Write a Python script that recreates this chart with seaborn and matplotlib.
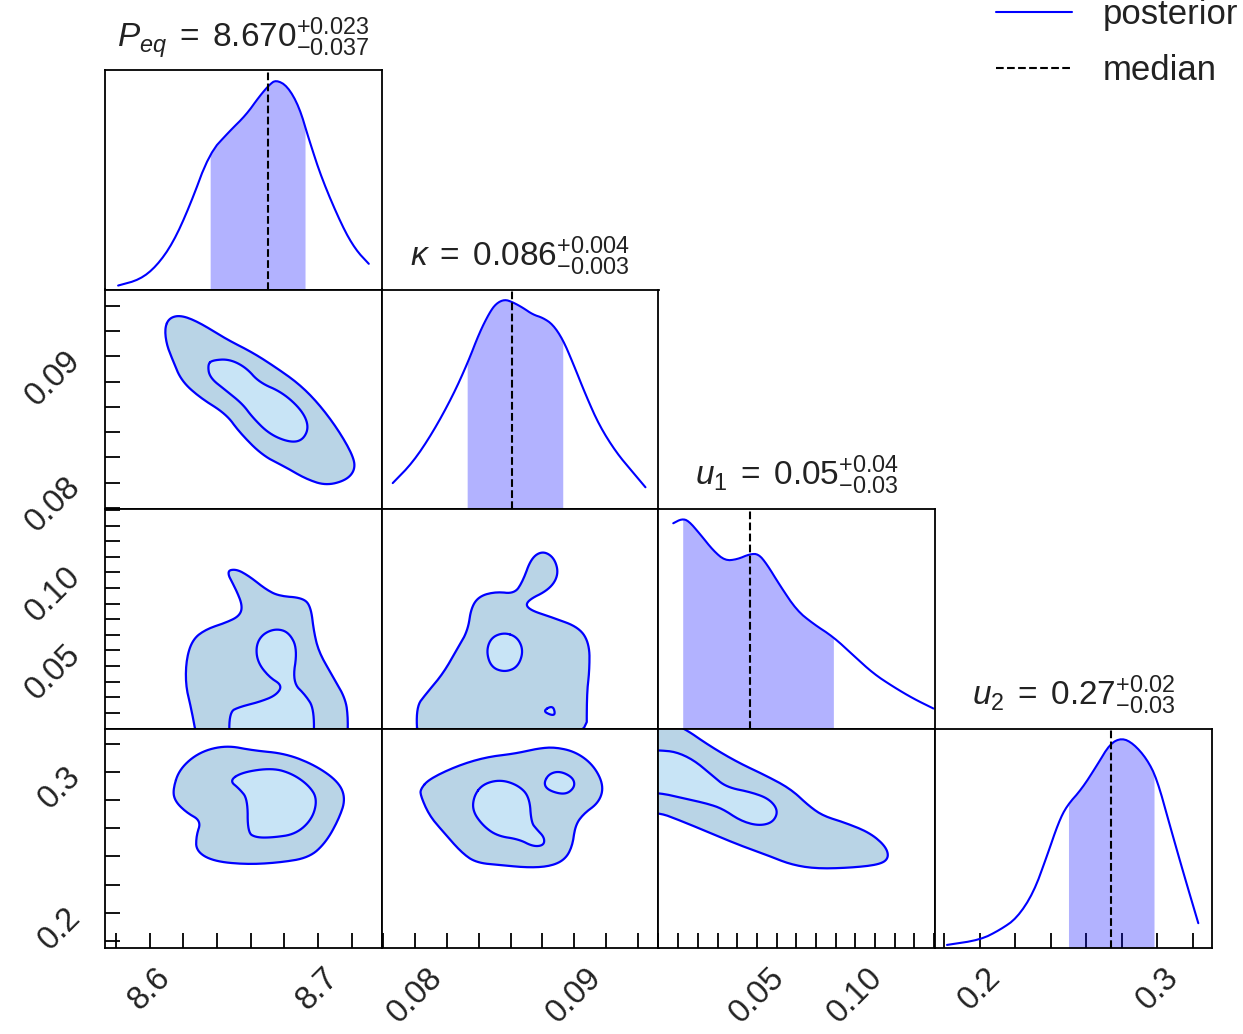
import numpy as np
import matplotlib
matplotlib.use("Agg")
import matplotlib.pyplot as plt
import seaborn as sns
from matplotlib.ticker import MultipleLocator
from matplotlib.lines import Line2D

# ---------------- data ----------------
titles = [r"$P_{eq}\;=\;8.670^{+0.023}_{-0.037}$",
          r"$\kappa\;=\;0.086^{+0.004}_{-0.003}$",
          r"$u_1\;=\;0.05^{+0.04}_{-0.03}$",
          r"$u_2\;=\;0.27^{+0.02}_{-0.03}$"]
limits = [(8.5734, 8.7379), (0.0779, 0.0953), (0.0, 0.1407), (0.1751, 0.3307)]
major_ticks = [[8.6, 8.7], [0.08, 0.09], [0.05, 0.10], [0.2, 0.3]]
major_labels = [["8.6", "8.7"], ["0.08", "0.09"], ["0.05", "0.10"], ["0.2", "0.3"]]
minor_step = [0.02, 0.002, 0.01, 0.02]

# quantiles (16%, 50%, 84%)
quant_peq = [8.6359, 8.6704, 8.6923]
quant_kap = [0.08327, 0.08610, 0.08928]
quant_u1 = [0.0123, 0.0465, 0.0889]
quant_u2 = [0.2500, 0.2738, 0.2981]

# 1D marginal posteriors (relative density)
peq_x = [8.5812, 8.5941, 8.6040, 8.6138, 8.6237, 8.6355, 8.6473, 8.6572, 8.6651, 8.6710,
         8.6750, 8.6818, 8.6888, 8.6947, 8.7025, 8.7144, 8.7223, 8.7302]
peq_d = [0.018, 0.045, 0.106, 0.212, 0.379, 0.621, 0.720, 0.795, 0.879, 0.932,
         0.955, 0.927, 0.833, 0.682, 0.500, 0.288, 0.182, 0.117]
kap_x = [0.07859, 0.07985, 0.08111, 0.08236, 0.08331, 0.08404, 0.08467, 0.08509, 0.08562,
         0.08614, 0.08677, 0.08740, 0.08803, 0.08865, 0.08928, 0.08991, 0.09075, 0.09159,
         0.09264, 0.09369, 0.09448]
kap_d = [0.118, 0.212, 0.349, 0.515, 0.667, 0.803, 0.894, 0.936, 0.955,
         0.942, 0.917, 0.886, 0.871, 0.841, 0.773, 0.667, 0.515, 0.379,
         0.258, 0.167, 0.099]
u1_x = [0.0075, 0.0118, 0.0152, 0.0211, 0.0279, 0.0338, 0.0398, 0.0465, 0.0508, 0.0550,
        0.0618, 0.0703, 0.0787, 0.0889, 0.0991, 0.1093, 0.1194, 0.1296, 0.1398]
u1_d = [0.935, 0.955, 0.947, 0.886, 0.810, 0.765, 0.770, 0.795, 0.795, 0.750,
        0.651, 0.538, 0.477, 0.417, 0.333, 0.250, 0.190, 0.136, 0.091]
u2_x = [0.1817, 0.2004, 0.2116, 0.2210, 0.2303, 0.2379, 0.2444, 0.2491, 0.2575, 0.2660,
        0.2734, 0.2800, 0.2865, 0.2940, 0.2997, 0.3071, 0.3146, 0.3230]
u2_d = [0.014, 0.037, 0.083, 0.136, 0.251, 0.419, 0.572, 0.648, 0.725, 0.832,
        0.931, 0.957, 0.931, 0.862, 0.771, 0.556, 0.343, 0.113]

# 2D credible-region outlines (outer = 2 sigma, inner = 1 sigma), data units
peq_kap_outer = [(8.6089, 0.09228), (8.6118, 0.09307), (8.6188, 0.09326), (8.6296, 0.09268),
                 (8.6454, 0.09137), (8.6611, 0.09031), (8.6750, 0.08912), (8.6888, 0.08781),
                 (8.7006, 0.08622), (8.7124, 0.08411), (8.7213, 0.08200), (8.7219, 0.08095),
                 (8.7164, 0.08016), (8.7046, 0.07976), (8.6927, 0.08029), (8.6809, 0.08121),
                 (8.6670, 0.08214), (8.6533, 0.08398), (8.6454, 0.08543), (8.6296, 0.08675),
                 (8.6188, 0.08807), (8.6138, 0.08965), (8.6099, 0.09097)]
peq_kap_inner = [(8.6345, 0.08939), (8.6375, 0.08970), (8.6473, 0.08978), (8.6572, 0.08912),
                 (8.6651, 0.08793), (8.6789, 0.08714), (8.6907, 0.08569), (8.6947, 0.08437),
                 (8.6907, 0.08332), (8.6828, 0.08319), (8.6710, 0.08385), (8.6611, 0.08516),
                 (8.6552, 0.08622), (8.6454, 0.08728), (8.6355, 0.08833)]
peq_u1_outer = [(8.6286, -0.01), (8.6247, 0.0127), (8.6213, 0.0276), (8.6217, 0.0446),
                (8.6256, 0.0573), (8.6336, 0.0637), (8.6454, 0.0679), (8.6533, 0.0721),
                (8.6552, 0.0785), (8.6513, 0.0891), (8.6454, 0.1008), (8.6513, 0.1023),
                (8.6592, 0.0976), (8.6691, 0.0891), (8.6769, 0.0849), (8.6907, 0.0838),
                (8.6957, 0.0785), (8.6976, 0.0616), (8.7006, 0.0488), (8.7085, 0.0339),
                (8.7164, 0.0191), (8.7179, 0.0064), (8.7174, -0.01)]
peq_u1_inner = [(8.6473, -0.01), (8.6473, 0.0106), (8.6533, 0.0138), (8.6651, 0.0170),
                (8.6750, 0.0212), (8.6789, 0.0276), (8.6710, 0.0329), (8.6641, 0.0425),
                (8.6631, 0.0530), (8.6670, 0.0605), (8.6750, 0.0641), (8.6828, 0.0616),
                (8.6878, 0.0509), (8.6848, 0.0297), (8.6927, 0.0212), (8.6976, 0.0127),
                (8.6976, -0.01)]
peq_u2_outer = [(8.6138, 0.2879), (8.6178, 0.3022), (8.6296, 0.3141), (8.6454, 0.3188),
                (8.6611, 0.3152), (8.6809, 0.3129), (8.6986, 0.3045), (8.7124, 0.2927),
                (8.7164, 0.2807), (8.7124, 0.2665), (8.7046, 0.2498), (8.6947, 0.2391),
                (8.6769, 0.2356), (8.6572, 0.2343), (8.6375, 0.2367), (8.6276, 0.2438),
                (8.6276, 0.2545), (8.6306, 0.2652), (8.6217, 0.2712), (8.6148, 0.2795)]
peq_u2_inner = [(8.6473, 0.2938), (8.6552, 0.2998), (8.6730, 0.3027), (8.6848, 0.2986),
                (8.6947, 0.2902), (8.6996, 0.2807), (8.6966, 0.2665), (8.6868, 0.2558),
                (8.6730, 0.2534), (8.6631, 0.2534), (8.6582, 0.2570), (8.6582, 0.2807),
                (8.6533, 0.2879)]
kap_u1_outer = [(0.08016, -0.01), (0.08006, 0.0138), (0.08069, 0.0223), (0.08174, 0.0350),
                (0.08258, 0.0498), (0.08331, 0.0626), (0.08352, 0.0775), (0.08404, 0.0849),
                (0.08509, 0.0877), (0.08625, 0.0864), (0.08677, 0.0944), (0.08730, 0.1093),
                (0.08803, 0.1139), (0.08876, 0.1093), (0.08903, 0.0987), (0.08845, 0.0891),
                (0.08698, 0.0817), (0.08708, 0.0764), (0.08865, 0.0711), (0.09033, 0.0647),
                (0.09096, 0.0541), (0.09096, 0.0371), (0.09079, 0.0223), (0.09079, -0.01)]
kap_u1_inner = [(0.08562, 0.0616), (0.08645, 0.0584), (0.08681, 0.0495), (0.08645, 0.0393),
                (0.08562, 0.0361), (0.08478, 0.0393), (0.08447, 0.0495), (0.08478, 0.0584)]
kap_u1_speck = [(0.08803, 0.0113), (0.08865, 0.0148), (0.08882, 0.0091), (0.08855, 0.0085)]
kap_u2_outer = [(0.08034, 0.2879), (0.08090, 0.2950), (0.08270, 0.3045), (0.08449, 0.3105),
                (0.08629, 0.3129), (0.08764, 0.3164), (0.08876, 0.3176), (0.09011, 0.3141),
                (0.09123, 0.3045), (0.09186, 0.2902), (0.09157, 0.2784), (0.09056, 0.2700),
                (0.09006, 0.2617), (0.08989, 0.2474), (0.08943, 0.2379), (0.08853, 0.2331),
                (0.08719, 0.2320), (0.08539, 0.2338), (0.08382, 0.2356), (0.08292, 0.2427),
                (0.08180, 0.2570), (0.08090, 0.2688), (0.08034, 0.2831)]
kap_u2_inner = [(0.08370, 0.2831), (0.08427, 0.2914), (0.08539, 0.2945), (0.08652, 0.2902),
                (0.08719, 0.2820), (0.08730, 0.2641), (0.08764, 0.2593), (0.08813, 0.2534),
                (0.08809, 0.2479), (0.08742, 0.2470), (0.08652, 0.2522), (0.08517, 0.2545),
                (0.08427, 0.2617), (0.08360, 0.2724)]
kap_u2_island = [(0.08809, 0.2922), (0.08842, 0.2986), (0.08910, 0.3005), (0.08989, 0.2962),
                 (0.09006, 0.2902), (0.08966, 0.2850), (0.08910, 0.2843), (0.08831, 0.2874)]
u1_u2_outer = [(-0.01, 0.345), (0.0119, 0.332), (0.0255, 0.3188), (0.0400, 0.3069),
               (0.0545, 0.2974), (0.0672, 0.2879), (0.0763, 0.2760), (0.0836, 0.2688),
               (0.0945, 0.2641), (0.1072, 0.2570), (0.1154, 0.2474), (0.1172, 0.2391),
               (0.1127, 0.2343), (0.0981, 0.2320), (0.0800, 0.2313), (0.0672, 0.2343),
               (0.0564, 0.2403), (0.0400, 0.2486), (0.0218, 0.2593), (0.0091, 0.2665),
               (0.0010, 0.2707), (-0.01, 0.2712)]
u1_u2_inner = [(-0.01, 0.3155), (0.0010, 0.3152), (0.0091, 0.3141), (0.0182, 0.3081),
               (0.0273, 0.2974), (0.0345, 0.2891), (0.0473, 0.2855), (0.0564, 0.2807),
               (0.0609, 0.2724), (0.0582, 0.2641), (0.0509, 0.2617), (0.0418, 0.2652),
               (0.0328, 0.2736), (0.0255, 0.2772), (0.0145, 0.2807), (0.0010, 0.2850),
               (-0.01, 0.2852)]

marginals = [(peq_x, peq_d, quant_peq), (kap_x, kap_d, quant_kap),
             (u1_x, u1_d, quant_u1), (u2_x, u2_d, quant_u2)]
regions = {
    (1, 0): ([peq_kap_outer], [peq_kap_inner]),
    (2, 0): ([peq_u1_outer], [peq_u1_inner]),
    (3, 0): ([peq_u2_outer], [peq_u2_inner]),
    (2, 1): ([kap_u1_outer], [kap_u1_inner, kap_u1_speck]),
    (3, 1): ([kap_u2_outer], [kap_u2_inner, kap_u2_island]),
    (3, 2): ([u1_u2_outer], [u1_u2_inner]),
}

# ---------------- style ----------------
sns.set_style("white")
TXT = "#222222"
plt.rcParams.update({
    "font.family": ["Liberation Sans", "DejaVu Sans"],
    "mathtext.fontset": "custom",
    "mathtext.rm": "Liberation Sans",
    "mathtext.it": "Liberation Sans:italic",
    "mathtext.sf": "Liberation Sans",
    "mathtext.bf": "Liberation Sans:bold",
    "text.color": TXT,
    "axes.edgecolor": "black",
    "axes.linewidth": 1.3,
    "xtick.direction": "in",
    "ytick.direction": "in",
    "xtick.color": "black",
    "ytick.color": "black",
    "xtick.labelcolor": TXT,
    "ytick.labelcolor": TXT,
})

LINE = "#0000ff"
FILL_OUT = "#b9d4e6"
FILL_IN = "#c8e4f6"


def chaikin(pts, n=3, closed=True):
    p = np.asarray(pts, float)
    for _ in range(n):
        if closed:
            q = np.roll(p, -1, axis=0)
            a = 0.75 * p + 0.25 * q
            b = 0.25 * p + 0.75 * q
            p = np.empty((2 * len(a), 2))
            p[0::2] = a
            p[1::2] = b
        else:
            a = 0.75 * p[:-1] + 0.25 * p[1:]
            b = 0.25 * p[:-1] + 0.75 * p[1:]
            mid = np.empty((2 * len(a), 2))
            mid[0::2] = a
            mid[1::2] = b
            p = np.vstack([p[:1], mid, p[-1:]])
    return p


fig = plt.figure(figsize=(12.43, 10.34), dpi=100)
axes = fig.subplots(4, 4, gridspec_kw=dict(wspace=0, hspace=0))
fig.subplots_adjust(left=105 / 1243, right=1212 / 1243, top=1 - 70 / 1034, bottom=1 - 948 / 1034)

for i in range(4):
    for j in range(4):
        ax = axes[i, j]
        if j > i:
            ax.set_axis_off()
            continue
        ax.set_xlim(*limits[j])
        if i == j:
            xs, ds, q = marginals[i]
            curve = chaikin(np.column_stack([xs, ds]), n=2, closed=False)
            sns.lineplot(x=curve[:, 0], y=curve[:, 1], ax=ax, color=LINE, lw=1.5,
                         sort=False, estimator=None)
            lo, med, hi = q
            inside = curve[(curve[:, 0] > lo) & (curve[:, 0] < hi), 0]
            fx = np.concatenate([[lo], inside, [hi]])
            fy = np.interp(fx, curve[:, 0], curve[:, 1])
            ax.fill_between(fx, 0, fy, color="#0000ff", alpha=0.3, lw=0)
            ax.axvline(med, color="black", ls="--", lw=1.5)
            ax.set_ylim(0, 1.0)
            ax.set_title(titles[i], fontsize=24, pad=17, color=TXT)
        else:
            ax.set_ylim(*limits[i])
            outers, inners = regions[(i, j)]
            outlines = []
            for poly in outers:
                sm = chaikin(poly, n=3)
                ax.fill(sm[:, 0], sm[:, 1], color=FILL_OUT, lw=0)
                outlines.append(sm)
            for poly in inners:
                sm = chaikin(poly, n=3)
                ax.fill(sm[:, 0], sm[:, 1], color=FILL_IN, lw=0)
                outlines.append(sm)
            for sm in outlines:
                closed = np.vstack([sm, sm[:1]])
                sns.lineplot(x=closed[:, 0], y=closed[:, 1], ax=ax, color=LINE, lw=1.6,
                             sort=False, estimator=None)
        ax.set_xlabel("")
        ax.set_ylabel("")

        # x axis
        ax.set_xticks(major_ticks[j], labels=major_labels[j], rotation=45, ha="center")
        ax.xaxis.set_minor_locator(MultipleLocator(minor_step[j]))
        if i == 3:
            ax.tick_params(axis="x", which="both", bottom=True, top=False, length=11,
                           width=1.3, pad=10, labelsize=23.5, labelbottom=True)
        else:
            ax.tick_params(axis="x", which="both", bottom=False, top=False, labelbottom=False)

        # y axis
        if j == 0 and i > 0:
            ax.set_yticks(major_ticks[i], labels=major_labels[i], rotation=45, ha="right",
                          va="center", rotation_mode="anchor")
            ax.yaxis.set_minor_locator(MultipleLocator(minor_step[i]))
            ax.tick_params(axis="y", which="both", left=True, right=False, length=11,
                           width=1.3, pad=21, labelsize=23.5, labelleft=True)
        else:
            ax.set_yticks([])
            ax.tick_params(axis="y", which="both", left=False, right=False, labelleft=False)
        for s in ax.spines.values():
            s.set_visible(True)
            s.set_color("black")
            s.set_linewidth(1.3)

handles = [Line2D([], [], color=LINE, lw=1.5), Line2D([], [], color="black", ls="--", lw=1.5)]
fig.legend(handles, ["posterior", "median"], loc="upper right", bbox_to_anchor=(1.021, 1.032),
           frameon=False, fontsize=25, handlelength=2.2, handletextpad=0.86, labelspacing=0.67)

fig.savefig("out.png", dpi=100)
